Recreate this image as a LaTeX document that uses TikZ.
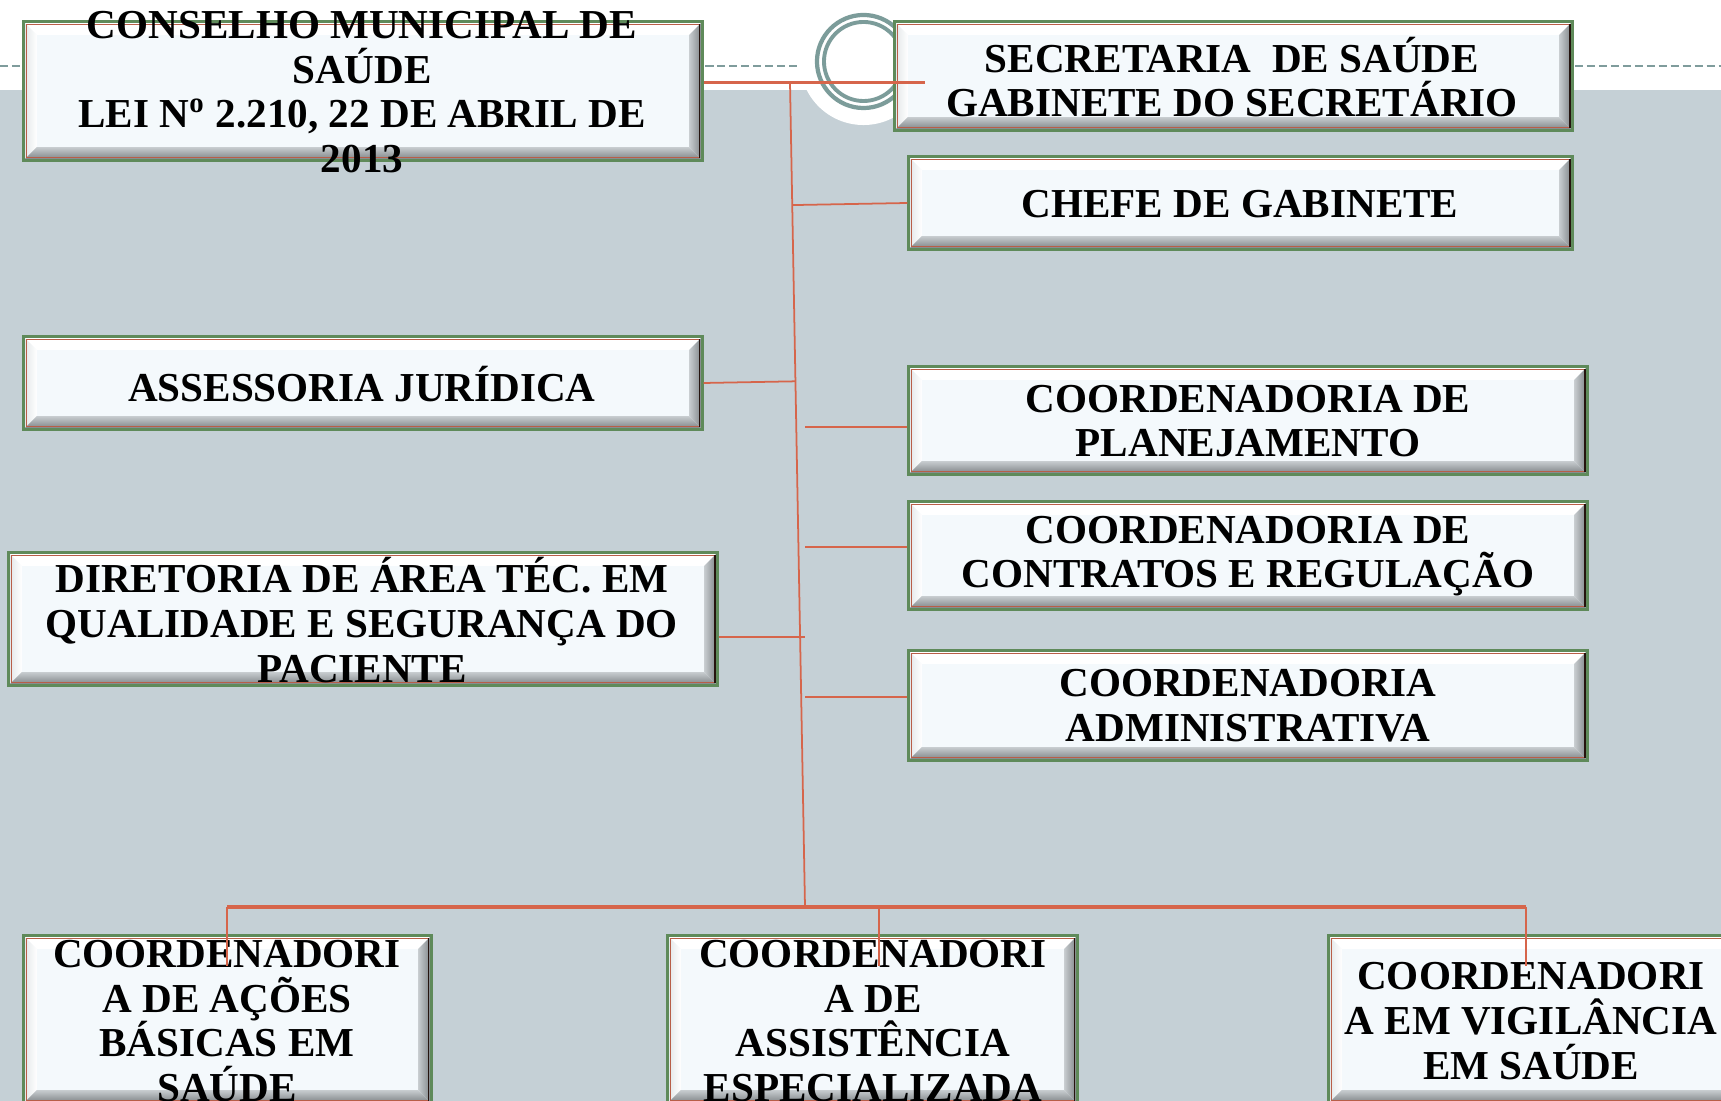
\documentclass[tikz,border=0pt]{standalone}
\usepackage{fontspec}
\setmainfont{Liberation Serif}
\usetikzlibrary{calc}
\definecolor{bggray}{HTML}{C5D0D6}
\definecolor{boxfill}{HTML}{F4F9FC}
\definecolor{boxgreen}{HTML}{5F8A5A}
\definecolor{boxred}{HTML}{B85E48}
\definecolor{conn}{HTML}{D6654B}
\definecolor{ringc}{HTML}{7C9C9A}
\definecolor{dashc}{HTML}{7F9C9C}
\definecolor{bevdark}{HTML}{7C8184}
\definecolor{bevmid}{HTML}{C8CDD0}
\definecolor{bevlight}{HTML}{E2E6E8}
\newcommand\bevw{0.13cm}
\begin{document}
\begin{tikzpicture}[x=0.01cm,y=-0.01cm,
  orgbox/.style={rectangle, inner sep=0pt, fill=boxfill, draw=boxgreen, line width=0.85pt,
    path picture={
      \coordinate (SW) at (path picture bounding box.south west);
      \coordinate (NE) at (path picture bounding box.north east);
      \coordinate (SE) at (SW -| NE);
      \coordinate (NW) at (NE -| SW);
      \fill[white] (NW) -- (NE) -- ([shift={(-\bevw,-\bevw)}]NE) -- ([shift={(\bevw,-\bevw)}]NW) -- cycle;
      \shade[left color=bevlight, right color=white] (NW) -- (SW) -- ([shift={(\bevw,\bevw)}]SW) -- ([shift={(\bevw,-\bevw)}]NW) -- cycle;
      \shade[left color=bevmid, right color=bevdark] (NE) -- (SE) -- ([shift={(-\bevw,\bevw)}]SE) -- ([shift={(-\bevw,-\bevw)}]NE) -- cycle;
      \shade[top color=bevmid, bottom color=bevdark] (SW) -- (SE) -- ([shift={(-\bevw,\bevw)}]SE) -- ([shift={(\bevw,\bevw)}]SW) -- cycle;
      \draw[boxred, line width=0.45pt] ([shift={(0.025cm,0.025cm)}]SW) -- ([shift={(0.025cm,-0.025cm)}]NW) -- ([shift={(-0.025cm,-0.025cm)}]NE);
      \draw[boxred, line width=0.45pt] ([shift={(0.025cm,0.025cm)}]SW) -- ([shift={(-0.025cm,0.025cm)}]SE);
      \draw[black!80!boxred, line width=0.45pt] ([shift={(-0.025cm,0.025cm)}]SE) -- ([shift={(-0.025cm,-0.025cm)}]NE);
    }},
  lbl/.style={font=\fontsize{11.7}{12.7}\selectfont\bfseries, align=center, inner sep=0pt, text=black},
  link/.style={draw=conn, line width=0.5pt},
  bar/.style={draw=conn, line width=0.9pt}
]
\useasboundingbox (0,0) rectangle (1721,1101);
\clip (0,0) rectangle (1721,1101);
% background
\fill[white] (0,0) rectangle (1721,1101);
\fill[bggray] (0,90) rectangle (1721,1101);
\coordinate (rc) at (863.5,61.5);
\fill[white] (rc) circle (0.635cm);
\draw[dashc, line width=0.6pt, dash pattern=on 2.3pt off 1.1pt] (0,66) -- (800,66);
\draw[dashc, line width=0.6pt, dash pattern=on 2.3pt off 1.1pt] (1575,66) -- (1721,66);
\draw[ringc, line width=1.2pt] (rc) circle (0.465cm);
\draw[ringc, line width=1.1pt] (rc) circle (0.395cm);
% boxes
\node[orgbox, minimum width=6.78cm, minimum height=1.38cm] (cons) at (363,91) {};
\node[orgbox, minimum width=6.77cm, minimum height=1.08cm] (sec) at (1233.5,76) {};
\node[orgbox, minimum width=6.63cm, minimum height=0.92cm] (chefe) at (1240.5,203) {};
\node[orgbox, minimum width=6.78cm, minimum height=0.92cm] (ass) at (363,383) {};
\node[orgbox, minimum width=6.78cm, minimum height=1.07cm] (plan) at (1248,420.5) {};
\node[orgbox, minimum width=6.78cm, minimum height=1.07cm] (contr) at (1248,555.5) {};
\node[orgbox, minimum width=6.78cm, minimum height=1.09cm] (adm) at (1248,705.5) {};
\node[orgbox, minimum width=7.08cm, minimum height=1.32cm] (dir) at (363,619) {};
\node[orgbox, minimum width=4.07cm, minimum height=1.67cm] (b1) at (227.5,1019.5) {};
\node[orgbox, minimum width=4.09cm, minimum height=1.67cm] (b2) at (872.5,1019.5) {};
\node[orgbox, minimum width=4.06cm, minimum height=1.67cm] (b3) at (1532,1019.5) {};
% texts
\node[lbl] (tcons) at (362,92) {CONSELHO MUNICIPAL DE\\SAÚDE\\LEI N\textsuperscript{o} 2.210, 22 DE ABRIL DE\\2013};
\node[lbl] (tsec) at (1232,77) {SECRETARIA\ \ DE SAÚDE\\GABINETE DO SECRETÁRIO};
\node[lbl] (tchefe) at (1240,204) {CHEFE DE GABINETE};
\node[lbl] (tass) at (362,384) {ASSESSORIA JURÍDICA};
\node[lbl] (tplan) at (1248,421) {COORDENADORIA DE\\PLANEJAMENTO};
\node[lbl] (tcontr) at (1248,556) {COORDENADORIA DE\\CONTRATOS E REGULAÇÃO};
\node[lbl] (tadm) at (1248,706) {COORDENADORIA\\ADMINISTRATIVA};
\node[lbl] (tdir) at (362,620) {DIRETORIA DE ÁREA TÉC. EM\\QUALIDADE E SEGURANÇA DO\\PACIENTE};
\node[lbl] (tb1) at (227,1021) {COORDENADORI\\A DE AÇÕES\\BÁSICAS EM\\SAÚDE};
\node[lbl] (tb2) at (873,1021) {COORDENADORI\\A DE\\ASSISTÊNCIA\\ESPECIALIZADA};
\node[lbl] (tb3) at (1531,1021) {COORDENADORI\\A EM VIGILÂNCIA\\EM SAÚDE};
% connectors
\coordinate (j0) at (790,82.5);
\coordinate (j1) at (805,907);
\coordinate (secin) at (925,82.5);
\draw[link, line width=0.6pt] (cons.east |- j0) -- (secin);
\draw[link] (j0) -- (j1);
\draw[link] (chefe.west) -- ($(j0)!(chefe.west)!(j1)$);
\draw[link] (ass.east) -- ($(j0)!(ass.east)!(j1)$);
\coordinate (pl) at (805,427);
\coordinate (co) at (805,547);
\coordinate (ad) at (805,697);
\coordinate (di) at (805,637);
\draw[link] (pl) -- (plan.west |- pl);
\draw[link] (co) -- (contr.west |- co);
\draw[link] (ad) -- (adm.west |- ad);
\draw[link] (dir.east |- di) -- (di);
\coordinate (d1) at (227,907);
\coordinate (d2) at (879,907);
\coordinate (d3) at (1526,907);
\draw[bar] (d1) -- (d3);
\draw[link] (d1) -- (d1 |- b1.north) -- ++(0,32);
\draw[link] (d2) -- (d2 |- b2.north) -- ++(0,32);
\draw[link] (d3) -- (d3 |- b3.north) -- ++(0,32);
\end{tikzpicture}
\end{document}
